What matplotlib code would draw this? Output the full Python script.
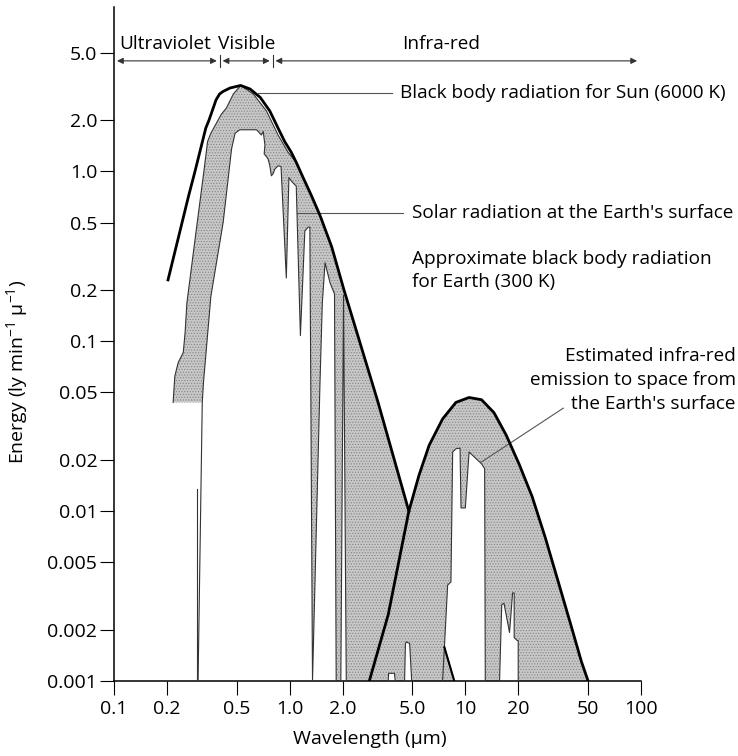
import numpy as np
import matplotlib
matplotlib.use('Agg')
import matplotlib.pyplot as plt
from matplotlib.ticker import NullLocator

plt.rcParams['font.family'] = ['Open Sans', 'DejaVu Sans']
plt.rcParams['font.size'] = 14
plt.rcParams['mathtext.fontset'] = 'custom'
plt.rcParams['mathtext.rm'] = 'Open Sans'
plt.rcParams['mathtext.it'] = 'Open Sans:italic'
plt.rcParams['hatch.linewidth'] = 0.5

# black body radiation for the Sun (6000 K), wavelength in um
sun_bb_wl = [0.203, 0.244, 0.266, 0.289, 0.333, 0.347, 0.381, 0.399, 0.418, 0.457,
             0.526, 0.595, 0.68, 0.771, 0.859, 0.937, 1.02, 1.091, 1.193, 1.331,
             1.49, 1.735, 2.04, 2.5, 3.18, 4.77]
sun_bb_e = [0.23, 0.5, 0.72, 1.0, 1.8, 2.0, 2.64, 2.86, 2.96, 3.1,
            3.21, 3.06, 2.73, 2.27, 1.8, 1.5, 1.3, 1.13, 0.92, 0.72,
            0.55, 0.36, 0.2, 0.1, 0.044, 0.01]

# solar radiation outside the atmosphere (upper edge of the absorbed band)
toa_wl = [0.217, 0.222, 0.232, 0.248, 0.254, 0.26, 0.291, 0.326, 0.341, 0.356,
          0.408, 0.437, 0.478, 0.526, 0.621, 0.738, 0.859, 0.978, 1.091]
toa_e = [0.0437, 0.0624, 0.075, 0.086, 0.113, 0.168, 0.417, 1.03, 1.5, 1.68,
         2.17, 2.37, 2.86, 3.21, 2.86, 2.27, 1.64, 1.3, 1.13]

# solar radiation at the Earth's surface
surface_wl = [0.301, 0.318, 0.323, 0.356, 0.418, 0.467, 0.489, 0.52, 0.648, 0.69,
              0.707, 0.723, 0.716, 0.754, 0.771, 0.787, 0.806, 0.823, 0.859, 0.893,
              0.957, 0.99, 1.03, 1.09, 1.151, 1.22, 1.274, 1.303, 1.349, 1.488,
              1.534, 1.59, 1.7, 1.8, 1.84, 1.955, 2.026, 2.1, 3.64, 3.66,
              3.95, 3.99, 4.51, 4.56, 4.62, 4.82, 4.95]
surface_e = [0.001, 0.0437, 0.057, 0.184, 0.5, 1.36, 1.68, 1.76, 1.76, 1.64,
             1.72, 1.43, 1.27, 1.186, 1.08, 0.943, 0.973, 1.032, 1.08, 1.07,
             0.236, 0.92, 0.87, 0.82, 0.108, 0.446, 0.47, 0.47, 0.001, 0.057,
             0.168, 0.29, 0.22, 0.19, 0.001, 0.001, 0.187, 0.001, 0.001, 0.00111,
             0.00111, 0.001, 0.001, 0.00166, 0.0017, 0.00166, 0.001]
uv_line_wl = [0.295, 0.295]
uv_line_e = [0.001, 0.0135]

# approximate black body radiation for Earth (300 K)
earth_bb_wl = [2.84, 3.64, 4.77, 5.45, 6.22, 7.42, 8.84, 10.5, 12.37, 14.56,
               17.1, 20.2, 24.0, 28.5, 33.9, 40.3, 45.8, 50]
earth_bb_e = [0.001, 0.00246, 0.01, 0.0163, 0.0244, 0.0349, 0.0437, 0.0467, 0.0453, 0.038,
              0.028, 0.019, 0.0122, 0.007, 0.0038, 0.00206, 0.0013, 0.001]

# infra-red emission to space from the surface (atmospheric windows)
window1_wl = [8.65, 7.6, 7.93, 8.28, 8.47, 8.84, 9.33, 9.45, 10.0, 10.5, 12.37, 12.88, 12.99]
window1_e = [0.001, 0.00158, 0.00367, 0.00383, 0.0223, 0.0233, 0.0235, 0.01045, 0.01045,
             0.0223, 0.019, 0.0178, 0.001]
window1_edge_wl = [7.42, 7.6]
window1_edge_e = [0.001, 0.00158]
window2_wl = [15.66, 16.11, 16.59, 17.85, 18.58, 18.97, 18.97, 19.76, 20.0, 20.0]
window2_e = [0.001, 0.00281, 0.00287, 0.00193, 0.0033, 0.0033, 0.0018, 0.00173, 0.00173, 0.001]

xtick_vals = [0.1, 0.2, 0.5, 1, 2, 5, 10, 20, 50, 100]
xtick_labels = ['0.1', '0.2', '0.5', '1.0', '2.0', '5.0', '10', '20', '50', '100']
ytick_vals = [0.001, 0.002, 0.005, 0.01, 0.02, 0.05, 0.1, 0.2, 0.5, 1, 2, 5]
ytick_labels = ['0.001', '0.002', '0.005', '0.01', '0.02', '0.05', '0.1', '0.2', '0.5',
                '1.0', '2.0', '5.0']

band_names = ['Ultraviolet', 'Visible', 'Infra-red']
band_bounds = [0.4, 0.8]

fig = plt.figure(figsize=(7.38, 7.56), dpi=100)
ax = fig.add_axes([114 / 738, 75 / 756, 527 / 738, 674 / 756])
ax.set_xscale('log')
ax.set_yscale('log')
ax.set_xlim(0.1, 100)
ax.set_ylim(0.001, 9.3)

shade = dict(facecolor='#c7c7c7', edgecolor='#858585', hatch='......', linewidth=0)
line = dict(color='#333333', lw=0.8)

# absorbed solar radiation: below the top-of-atmosphere curve, then the sun curve
sun_wl = np.array(sun_bb_wl)
sun_e = np.array(sun_bb_e)
tail = sun_wl > toa_wl[-1]
poly_wl = np.r_[toa_wl, sun_wl[tail], sun_wl[-1], surface_wl[0], surface_wl[1]]
poly_e = np.r_[toa_e, sun_e[tail], 0.001, surface_e[0], surface_e[1]]
ax.fill(poly_wl, poly_e, zorder=1, **shade)
ax.fill(earth_bb_wl, earth_bb_e, zorder=1, **shade)

# transmitted parts are left white
ax.fill(surface_wl, surface_e, facecolor='white', edgecolor='none', zorder=2)
ax.fill(window1_wl, window1_e, facecolor='white', edgecolor='none', zorder=2)
ax.fill(window2_wl, window2_e, facecolor='white', edgecolor='none', zorder=2)

ax.plot(surface_wl, surface_e, zorder=3, **line)
ax.plot(toa_wl, toa_e, zorder=3, **line)
ax.plot(uv_line_wl, uv_line_e, zorder=3, **line)
ax.plot(window1_wl, window1_e, zorder=3, **line)
ax.plot(window1_edge_wl, window1_edge_e, zorder=3, **line)
ax.plot(window1_wl[:2], window1_e[:2], color='black', lw=1.5, zorder=3)
ax.plot(window2_wl, window2_e, zorder=3, **line)

ax.plot(sun_bb_wl, sun_bb_e, color='black', lw=2.0, zorder=4, solid_joinstyle='round')
ax.plot(earth_bb_wl, earth_bb_e, color='black', lw=2.0, zorder=4, solid_joinstyle='round')

# spectral bands along the top
arrow = dict(arrowstyle='<|-|>', color='#333333', lw=0.8, mutation_scale=9,
             shrinkA=0, shrinkB=0)
band_spans = [(0.104, 0.385), (0.415, 0.77), (0.83, 95)]
for a, b in band_spans:
    ax.annotate('', xy=(b, 4.48), xytext=(a, 4.48), arrowprops=arrow, annotation_clip=False)
for b in band_bounds:
    ax.plot([b, b], [4.13, 4.87], **line)
ax.text(0.107, 5.6, band_names[0], va='center', ha='left', fontsize=13.7)
ax.text(0.392, 5.6, band_names[1], va='center', ha='left', fontsize=13.7)
ax.text(7.3, 5.6, band_names[2], va='center', ha='center', fontsize=13.7)

# labels with leader lines
lab = dict(fontsize=13.7, va='center', ha='left')
ax.plot([0.66, 3.82], [2.9, 2.9], lw=0.8, color='#555555')
ax.text(4.25, 2.9, 'Black body radiation for Sun (6000 K)', **lab)
ax.plot([1.1, 4.43], [0.57, 0.57], lw=0.8, color='#555555')
ax.text(4.95, 0.57, "Solar radiation at the Earth's surface", **lab)
ax.text(4.95, 0.262, 'Approximate black body radiation\nfor Earth (300 K)',
        linespacing=1.34, **lab)
ax.plot([12.37, 36.1], [0.0195, 0.0404], lw=0.8, color='#555555', clip_on=False)
ax.text(347, 0.0593, "Estimated infra-red\nemission to space from\nthe Earth's surface",
        fontsize=13.7, va='center', ha='right', multialignment='right', linespacing=1.45)

ax.set_xticks(xtick_vals)
ax.set_xticklabels(xtick_labels)
ax.set_yticks(ytick_vals)
ax.set_yticklabels(ytick_labels)
ax.xaxis.set_minor_locator(NullLocator())
ax.yaxis.set_minor_locator(NullLocator())
ax.tick_params(axis='both', direction='out', length=10, width=0.8, labelsize=14)
ax.tick_params(axis='x', pad=4)
ax.tick_params(axis='y', pad=2)
for s in ['top', 'right']:
    ax.spines[s].set_visible(False)
for s in ['left', 'bottom']:
    ax.spines[s].set_linewidth(1.1)

ax.set_xlabel('Wavelength (µm)', fontsize=14)
ax.set_ylabel('Energy (ly min$^{-1}$ µ$^{-1}$)', fontsize=14)
ax.xaxis.set_label_coords(0.486, -0.072)
ax.yaxis.set_label_coords(-0.16, 0.458)

fig.savefig('out.png', dpi=100)
